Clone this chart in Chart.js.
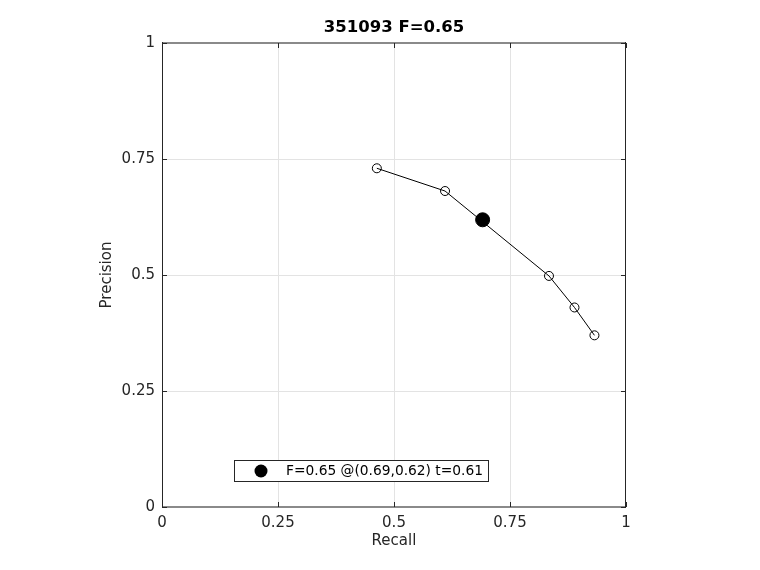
<!DOCTYPE html>
<html>
<head>
<meta charset="utf-8">
<script src="https://cdn.jsdelivr.net/npm/chart.js@4"></script>
<style>
  html, body { margin: 0; padding: 0; background: #fff; }
</style>
</head>
<body>
<canvas id="chart" width="760" height="570"></canvas>
<script>
const recall = [0.463, 0.610, 0.834, 0.889, 0.932];
const precision = [0.730, 0.681, 0.498, 0.430, 0.370];
const bestRecall = [0.691];
const bestPrecision = [0.619];
const bestF = 0.65;
const bestT = 0.61;
const imageId = "351093";
const tickValues = [0, 0.25, 0.5, 0.75, 1];
const tickLabels = ["0", "0.25", "0.5", "0.75", "1"];

const axisColor = "#262626";
const font = "DejaVu Sans";

// title, box, inward ticks and legend, drawn like matlab does
const matlabAxes = {
  id: "matlabAxes",
  afterDraw: (chart) => {
    const { ctx, chartArea: a, scales } = chart;
    ctx.save();
    // horizontal edges come out grey and a bit thick in the reference
    ctx.strokeStyle = "#8a8a8a";
    ctx.lineWidth = 2;
    ctx.beginPath();
    ctx.moveTo(a.left, a.top);
    ctx.lineTo(a.right, a.top);
    ctx.moveTo(a.left, a.bottom);
    ctx.lineTo(a.right, a.bottom);
    ctx.stroke();
    ctx.strokeStyle = axisColor;
    ctx.lineWidth = 1;
    ctx.beginPath();
    ctx.moveTo(a.left + 0.5, a.top - 1);
    ctx.lineTo(a.left + 0.5, a.bottom);
    ctx.moveTo(a.right - 0.5, a.top - 1);
    ctx.lineTo(a.right - 0.5, a.bottom);
    ctx.stroke();

    const len = 5;
    ctx.beginPath();
    tickValues.forEach((v) => {
      const px = Math.round(scales.x.getPixelForValue(v)) + 0.5;
      ctx.moveTo(px, a.bottom);
      ctx.lineTo(px, a.bottom - len);
      ctx.moveTo(px, a.top);
      ctx.lineTo(px, a.top + len);
      const py = Math.round(scales.y.getPixelForValue(v)) + 0.5;
      ctx.moveTo(a.left, py);
      ctx.lineTo(a.left + len, py);
      ctx.moveTo(a.right, py);
      ctx.lineTo(a.right - len, py);
    });
    ctx.stroke();

    // title
    ctx.fillStyle = "#000";
    ctx.font = "bold 16.5px '" + font + "'";
    ctx.textAlign = "center";
    ctx.textBaseline = "middle";
    ctx.fillText(imageId + " F=" + bestF.toFixed(2), (a.left + a.right) / 2, 28);

    // legend
    const lx = a.left + 72, ly = a.bottom - 47;
    ctx.fillStyle = "#fff";
    ctx.fillRect(lx, ly, 254, 21);
    ctx.strokeStyle = axisColor;
    ctx.strokeRect(lx + 0.5, ly + 0.5, 254, 21);
    ctx.fillStyle = "#000";
    ctx.beginPath();
    ctx.arc(lx + 27, ly + 11, 6.5, 0, Math.PI * 2);
    ctx.fill();
    ctx.font = "13.8px '" + font + "'";
    ctx.textAlign = "left";
    ctx.fillText(
      "F=" + bestF.toFixed(2) + " @(" + bestRecall[0].toFixed(2) + "," +
        bestPrecision[0].toFixed(2) + ") t=" + bestT.toFixed(2),
      lx + 52, ly + 11.5
    );
    ctx.restore();
  },
};

const axisTicks = {
  color: axisColor,
  font: { family: font, size: 15 },
  autoSkip: false,
  maxRotation: 0,
};

const ctx = document.getElementById("chart");
const chart = new Chart(ctx, {
  type: "scatter",
  data: {
    datasets: [
      {
        data: bestRecall.map((r, i) => ({ x: r, y: bestPrecision[i] })),
        showLine: false,
        pointRadius: 7,
        pointBackgroundColor: "#000",
        pointBorderColor: "#000",
        borderWidth: 1,
      },
      {
        data: recall.map((r, i) => ({ x: r, y: precision[i] })),
        showLine: true,
        borderColor: "#000",
        borderWidth: 1,
        pointRadius: 4.5,
        pointBackgroundColor: "rgba(0,0,0,0)",
        pointBorderColor: "#000",
        pointBorderWidth: 1,
      },
    ],
  },
  options: {
    responsive: false,
    animation: false,
    layout: { padding: { left: 0, right: 134, top: 43, bottom: 0 } },
    plugins: {
      legend: { display: false },
      tooltip: { enabled: false },
    },
    scales: {
      x: {
        type: "linear",
        min: 0,
        max: 1,
        afterBuildTicks: (scale) => {
          scale.ticks = tickValues.map((v) => ({ value: v }));
        },
        afterFit: (scale) => {
          scale.height = 63;
        },
        ticks: {
          ...axisTicks,
          padding: 7,
          callback: (v) => tickLabels[tickValues.indexOf(v)],
        },
        grid: {
          color: (c) => (c.index === 0 || c.index === tickValues.length - 1 ? "rgba(0,0,0,0)" : "#e3e3e3"),
          drawTicks: false,
        },
        border: { display: false },
        title: {
          display: true,
          text: "Recall",
          color: axisColor,
          font: { family: font, size: 15 },
          padding: { top: 0, bottom: 20 },
        },
      },
      y: {
        type: "linear",
        min: 0,
        max: 1,
        afterBuildTicks: (scale) => {
          scale.ticks = tickValues.map((v) => ({ value: v }));
        },
        afterFit: (scale) => {
          scale.width = 162;
        },
        ticks: {
          ...axisTicks,
          padding: 7,
          callback: (v) => tickLabels[tickValues.indexOf(v)],
        },
        grid: {
          color: (c) => (c.index === 0 || c.index === tickValues.length - 1 ? "rgba(0,0,0,0)" : "#e3e3e3"),
          drawTicks: false,
        },
        border: { display: false },
        title: {
          display: true,
          text: "Precision",
          color: axisColor,
          font: { family: font, size: 15 },
          padding: { top: 98, bottom: 0 },
        },
      },
    },
  },
  plugins: [matlabAxes],
});
</script>
</body>
</html>
